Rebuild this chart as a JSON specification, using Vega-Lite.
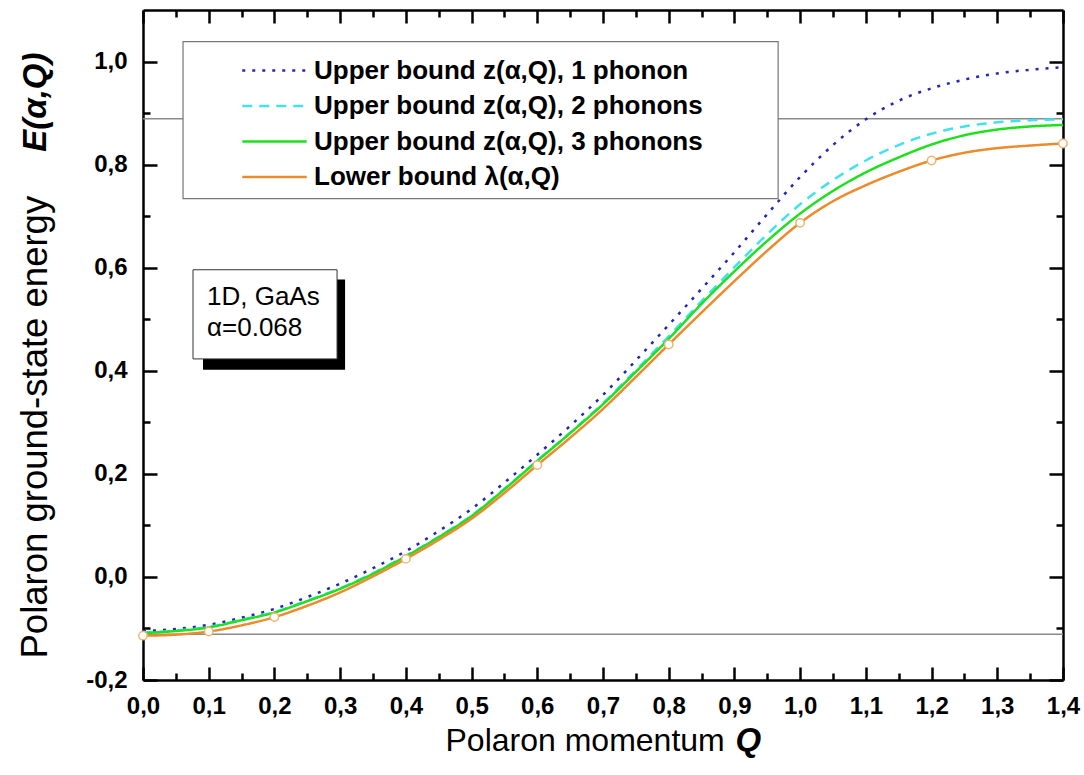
{
  "$schema": "https://vega.github.io/schema/vega-lite/v6.json",
  "width": 920,
  "height": 670,
  "autosize": {"type": "none"},
  "padding": {"left": 143, "top": 10, "right": 21, "bottom": 95},
  "background": "white",
  "config": {
    "view": {"stroke": null},
    "font": "Liberation Sans",
    "axis": {
      "domainColor": "black", "domainWidth": 2.5, "tickColor": "black", "tickWidth": 2.5,
      "grid": false, "labelFont": "Liberation Sans", "labelFontSize": 24, "labelFontWeight": "bold",
      "labelColor": "black", "titleFont": "Liberation Sans", "titleColor": "black",
      "titleFontWeight": "normal", "titleFontSize": 32, "labelOverlap": false, "labelFlush": false, "labelBound": false
    }
  },
  "datasets": {
    "curves": [
      {"Q": 0.00, "E": -0.105, "series": "Upper bound z(α,Q), 1 phonon"},
      {"Q": 0.05, "E": -0.101, "series": "Upper bound z(α,Q), 1 phonon"},
      {"Q": 0.10, "E": -0.093, "series": "Upper bound z(α,Q), 1 phonon"},
      {"Q": 0.15, "E": -0.079, "series": "Upper bound z(α,Q), 1 phonon"},
      {"Q": 0.20, "E": -0.062, "series": "Upper bound z(α,Q), 1 phonon"},
      {"Q": 0.25, "E": -0.039, "series": "Upper bound z(α,Q), 1 phonon"},
      {"Q": 0.30, "E": -0.013, "series": "Upper bound z(α,Q), 1 phonon"},
      {"Q": 0.35, "E": 0.017, "series": "Upper bound z(α,Q), 1 phonon"},
      {"Q": 0.40, "E": 0.050, "series": "Upper bound z(α,Q), 1 phonon"},
      {"Q": 0.45, "E": 0.089, "series": "Upper bound z(α,Q), 1 phonon"},
      {"Q": 0.50, "E": 0.132, "series": "Upper bound z(α,Q), 1 phonon"},
      {"Q": 0.55, "E": 0.183, "series": "Upper bound z(α,Q), 1 phonon"},
      {"Q": 0.60, "E": 0.237, "series": "Upper bound z(α,Q), 1 phonon"},
      {"Q": 0.65, "E": 0.293, "series": "Upper bound z(α,Q), 1 phonon"},
      {"Q": 0.70, "E": 0.353, "series": "Upper bound z(α,Q), 1 phonon"},
      {"Q": 0.75, "E": 0.420, "series": "Upper bound z(α,Q), 1 phonon"},
      {"Q": 0.80, "E": 0.489, "series": "Upper bound z(α,Q), 1 phonon"},
      {"Q": 0.85, "E": 0.559, "series": "Upper bound z(α,Q), 1 phonon"},
      {"Q": 0.90, "E": 0.630, "series": "Upper bound z(α,Q), 1 phonon"},
      {"Q": 0.95, "E": 0.704, "series": "Upper bound z(α,Q), 1 phonon"},
      {"Q": 1.00, "E": 0.776, "series": "Upper bound z(α,Q), 1 phonon"},
      {"Q": 1.05, "E": 0.838, "series": "Upper bound z(α,Q), 1 phonon"},
      {"Q": 1.10, "E": 0.888, "series": "Upper bound z(α,Q), 1 phonon"},
      {"Q": 1.15, "E": 0.924, "series": "Upper bound z(α,Q), 1 phonon"},
      {"Q": 1.20, "E": 0.948, "series": "Upper bound z(α,Q), 1 phonon"},
      {"Q": 1.25, "E": 0.965, "series": "Upper bound z(α,Q), 1 phonon"},
      {"Q": 1.30, "E": 0.977, "series": "Upper bound z(α,Q), 1 phonon"},
      {"Q": 1.35, "E": 0.984, "series": "Upper bound z(α,Q), 1 phonon"},
      {"Q": 1.40, "E": 0.989, "series": "Upper bound z(α,Q), 1 phonon"},
      {"Q": 0.00, "E": -0.108, "series": "Upper bound z(α,Q), 2 phonons"},
      {"Q": 0.05, "E": -0.104, "series": "Upper bound z(α,Q), 2 phonons"},
      {"Q": 0.10, "E": -0.097, "series": "Upper bound z(α,Q), 2 phonons"},
      {"Q": 0.15, "E": -0.083, "series": "Upper bound z(α,Q), 2 phonons"},
      {"Q": 0.20, "E": -0.068, "series": "Upper bound z(α,Q), 2 phonons"},
      {"Q": 0.25, "E": -0.046, "series": "Upper bound z(α,Q), 2 phonons"},
      {"Q": 0.30, "E": -0.022, "series": "Upper bound z(α,Q), 2 phonons"},
      {"Q": 0.35, "E": 0.007, "series": "Upper bound z(α,Q), 2 phonons"},
      {"Q": 0.40, "E": 0.041, "series": "Upper bound z(α,Q), 2 phonons"},
      {"Q": 0.45, "E": 0.078, "series": "Upper bound z(α,Q), 2 phonons"},
      {"Q": 0.50, "E": 0.119, "series": "Upper bound z(α,Q), 2 phonons"},
      {"Q": 0.55, "E": 0.171, "series": "Upper bound z(α,Q), 2 phonons"},
      {"Q": 0.60, "E": 0.226, "series": "Upper bound z(α,Q), 2 phonons"},
      {"Q": 0.65, "E": 0.280, "series": "Upper bound z(α,Q), 2 phonons"},
      {"Q": 0.70, "E": 0.337, "series": "Upper bound z(α,Q), 2 phonons"},
      {"Q": 0.75, "E": 0.401, "series": "Upper bound z(α,Q), 2 phonons"},
      {"Q": 0.80, "E": 0.467, "series": "Upper bound z(α,Q), 2 phonons"},
      {"Q": 0.85, "E": 0.535, "series": "Upper bound z(α,Q), 2 phonons"},
      {"Q": 0.90, "E": 0.601, "series": "Upper bound z(α,Q), 2 phonons"},
      {"Q": 0.95, "E": 0.665, "series": "Upper bound z(α,Q), 2 phonons"},
      {"Q": 1.00, "E": 0.723, "series": "Upper bound z(α,Q), 2 phonons"},
      {"Q": 1.05, "E": 0.770, "series": "Upper bound z(α,Q), 2 phonons"},
      {"Q": 1.10, "E": 0.808, "series": "Upper bound z(α,Q), 2 phonons"},
      {"Q": 1.15, "E": 0.838, "series": "Upper bound z(α,Q), 2 phonons"},
      {"Q": 1.20, "E": 0.860, "series": "Upper bound z(α,Q), 2 phonons"},
      {"Q": 1.25, "E": 0.874, "series": "Upper bound z(α,Q), 2 phonons"},
      {"Q": 1.30, "E": 0.882, "series": "Upper bound z(α,Q), 2 phonons"},
      {"Q": 1.35, "E": 0.886, "series": "Upper bound z(α,Q), 2 phonons"},
      {"Q": 1.40, "E": 0.888, "series": "Upper bound z(α,Q), 2 phonons"},
      {"Q": 0.00, "E": -0.109, "series": "Upper bound z(α,Q), 3 phonons"},
      {"Q": 0.05, "E": -0.105, "series": "Upper bound z(α,Q), 3 phonons"},
      {"Q": 0.10, "E": -0.098, "series": "Upper bound z(α,Q), 3 phonons"},
      {"Q": 0.15, "E": -0.084, "series": "Upper bound z(α,Q), 3 phonons"},
      {"Q": 0.20, "E": -0.069, "series": "Upper bound z(α,Q), 3 phonons"},
      {"Q": 0.25, "E": -0.047, "series": "Upper bound z(α,Q), 3 phonons"},
      {"Q": 0.30, "E": -0.023, "series": "Upper bound z(α,Q), 3 phonons"},
      {"Q": 0.35, "E": 0.006, "series": "Upper bound z(α,Q), 3 phonons"},
      {"Q": 0.40, "E": 0.040, "series": "Upper bound z(α,Q), 3 phonons"},
      {"Q": 0.45, "E": 0.077, "series": "Upper bound z(α,Q), 3 phonons"},
      {"Q": 0.50, "E": 0.118, "series": "Upper bound z(α,Q), 3 phonons"},
      {"Q": 0.55, "E": 0.170, "series": "Upper bound z(α,Q), 3 phonons"},
      {"Q": 0.60, "E": 0.225, "series": "Upper bound z(α,Q), 3 phonons"},
      {"Q": 0.65, "E": 0.279, "series": "Upper bound z(α,Q), 3 phonons"},
      {"Q": 0.70, "E": 0.335, "series": "Upper bound z(α,Q), 3 phonons"},
      {"Q": 0.75, "E": 0.398, "series": "Upper bound z(α,Q), 3 phonons"},
      {"Q": 0.80, "E": 0.462, "series": "Upper bound z(α,Q), 3 phonons"},
      {"Q": 0.85, "E": 0.530, "series": "Upper bound z(α,Q), 3 phonons"},
      {"Q": 0.90, "E": 0.593, "series": "Upper bound z(α,Q), 3 phonons"},
      {"Q": 0.95, "E": 0.652, "series": "Upper bound z(α,Q), 3 phonons"},
      {"Q": 1.00, "E": 0.705, "series": "Upper bound z(α,Q), 3 phonons"},
      {"Q": 1.05, "E": 0.749, "series": "Upper bound z(α,Q), 3 phonons"},
      {"Q": 1.10, "E": 0.785, "series": "Upper bound z(α,Q), 3 phonons"},
      {"Q": 1.15, "E": 0.814, "series": "Upper bound z(α,Q), 3 phonons"},
      {"Q": 1.20, "E": 0.839, "series": "Upper bound z(α,Q), 3 phonons"},
      {"Q": 1.25, "E": 0.857, "series": "Upper bound z(α,Q), 3 phonons"},
      {"Q": 1.30, "E": 0.868, "series": "Upper bound z(α,Q), 3 phonons"},
      {"Q": 1.35, "E": 0.874, "series": "Upper bound z(α,Q), 3 phonons"},
      {"Q": 1.40, "E": 0.877, "series": "Upper bound z(α,Q), 3 phonons"},
      {"Q": 0.00, "E": -0.114, "series": "Lower bound λ(α,Q)"},
      {"Q": 0.05, "E": -0.112, "series": "Lower bound λ(α,Q)"},
      {"Q": 0.10, "E": -0.106, "series": "Lower bound λ(α,Q)"},
      {"Q": 0.15, "E": -0.094, "series": "Lower bound λ(α,Q)"},
      {"Q": 0.20, "E": -0.078, "series": "Lower bound λ(α,Q)"},
      {"Q": 0.25, "E": -0.056, "series": "Lower bound λ(α,Q)"},
      {"Q": 0.30, "E": -0.030, "series": "Lower bound λ(α,Q)"},
      {"Q": 0.35, "E": 0.001, "series": "Lower bound λ(α,Q)"},
      {"Q": 0.40, "E": 0.035, "series": "Lower bound λ(α,Q)"},
      {"Q": 0.45, "E": 0.072, "series": "Lower bound λ(α,Q)"},
      {"Q": 0.50, "E": 0.113, "series": "Lower bound λ(α,Q)"},
      {"Q": 0.55, "E": 0.163, "series": "Lower bound λ(α,Q)"},
      {"Q": 0.60, "E": 0.217, "series": "Lower bound λ(α,Q)"},
      {"Q": 0.65, "E": 0.270, "series": "Lower bound λ(α,Q)"},
      {"Q": 0.70, "E": 0.326, "series": "Lower bound λ(α,Q)"},
      {"Q": 0.75, "E": 0.388, "series": "Lower bound λ(α,Q)"},
      {"Q": 0.80, "E": 0.451, "series": "Lower bound λ(α,Q)"},
      {"Q": 0.85, "E": 0.513, "series": "Lower bound λ(α,Q)"},
      {"Q": 0.90, "E": 0.574, "series": "Lower bound λ(α,Q)"},
      {"Q": 0.95, "E": 0.633, "series": "Lower bound λ(α,Q)"},
      {"Q": 1.00, "E": 0.687, "series": "Lower bound λ(α,Q)"},
      {"Q": 1.05, "E": 0.729, "series": "Lower bound λ(α,Q)"},
      {"Q": 1.10, "E": 0.760, "series": "Lower bound λ(α,Q)"},
      {"Q": 1.15, "E": 0.786, "series": "Lower bound λ(α,Q)"},
      {"Q": 1.20, "E": 0.808, "series": "Lower bound λ(α,Q)"},
      {"Q": 1.25, "E": 0.823, "series": "Lower bound λ(α,Q)"},
      {"Q": 1.30, "E": 0.832, "series": "Lower bound λ(α,Q)"},
      {"Q": 1.35, "E": 0.837, "series": "Lower bound λ(α,Q)"},
      {"Q": 1.40, "E": 0.841, "series": "Lower bound λ(α,Q)"}
    ],
    "bounds": [{"E": -0.111}, {"E": 0.889}],
    "note": [{"label": "1D, GaAs\nα=0.068"}]
  },
  "layer": [
    {
      "data": {"name": "bounds"},
      "mark": {"type": "rule", "color": "#8a8a8a", "strokeWidth": 1.5},
      "encoding": {
        "y": {"field": "E", "type": "quantitative", "scale": {"domain": [-0.2, 1.1], "nice": false, "zero": false},
          "axis": {"orient": "left", "domain": false, "ticks": false, "labels": false, "title": "E(α,Q)",
            "titleFontWeight": "bold", "titleFontStyle": "italic", "titleFontSize": 33, "titleX": -108, "titleY": 42,
            "titleAlign": "right", "titleBaseline": "middle", "titleAngle": -90}}
      }
    },
    {
      "data": {"name": "note"},
      "mark": {"type": "rect", "fill": "white", "stroke": "#777777", "strokeWidth": 1.2},
      "encoding": {
        "x": {"datum": 0.0609, "type": "quantitative", "scale": {"domain": [0, 1.4], "nice": false, "zero": false}, "axis": null},
        "x2": {"datum": 0.9665},
        "y": {"datum": 1.0388, "type": "quantitative", "axis": null},
        "y2": {"datum": 0.734}
      }
    },
    {
      "data": {"name": "curves"},
      "mark": {"type": "line", "interpolate": "monotone", "strokeCap": "butt"},
      "encoding": {
        "x": {"field": "Q", "type": "quantitative", "scale": {"domain": [0, 1.4], "nice": false, "zero": false},
          "axis": {"orient": "bottom", "values": [0,0.05,0.1,0.15,0.2,0.25,0.3,0.35,0.4,0.45,0.5,0.55,0.6,0.65,0.7,0.75,0.8,0.85,0.9,0.95,1,1.05,1.1,1.15,1.2,1.25,1.3,1.35,1.4],
            "tickSize": {"condition": {"test": "abs(datum.value*10 - round(datum.value*10)) < 0.001", "value": -13}, "value": -7},
            "labelExpr": "abs(datum.value*10 - round(datum.value*10)) < 0.001 ? replace(format(datum.value, '.1f'), '.', ',') : ''",
            "labelPadding": 27, "title": "Polaron momentum", "titleX": 302, "titleY": 60,
            "titleAlign": "left", "titleBaseline": "middle", "titleAnchor": null}},
        "y": {"field": "E", "type": "quantitative", "scale": {"domain": [-0.2, 1.1], "nice": false, "zero": false},
          "axis": {"orient": "left", "values": [-0.2,-0.1,0,0.1,0.2,0.3,0.4,0.5,0.6,0.7,0.8,0.9,1.0],
            "tickSize": {"condition": {"test": "abs(datum.value*5 - round(datum.value*5)) < 0.001", "value": -14}, "value": -7},
            "labelExpr": "abs(datum.value*5 - round(datum.value*5)) < 0.001 ? (datum.value < -0.001 ? '-' : '') + replace(format(abs(datum.value), '.1f'), '.', ',') : ''",
            "labelPadding": 30, "title": "Polaron ground-state energy", "titleFontSize": 36.5, "titleX": -108, "titleY": 648,
            "titleAlign": "left", "titleBaseline": "middle", "titleAngle": -90}},
        "color": {"field": "series", "type": "nominal",
          "scale": {"domain": ["Upper bound z(α,Q), 1 phonon", "Upper bound z(α,Q), 2 phonons", "Upper bound z(α,Q), 3 phonons", "Lower bound λ(α,Q)"],
            "range": ["#2525b5", "#40e2ee", "#1fe01f", "#ec8a2c"]},
          "legend": {"orient": "none", "legendX": 40, "legendY": 30, "title": null,
            "padding": 16, "symbolType": "M-2.48,0H2.48", "symbolSize": 676,
            "symbolStrokeWidth": 2.5, "symbolOffset": 61, "labelOffset": 25, "labelFontSize": 26,
            "labelFontWeight": "bold", "labelFont": "Liberation Sans", "labelColor": "black", "rowPadding": 7.5, "labelLimit": 700}},
        "strokeDash": {"field": "series", "type": "nominal",
          "scale": {"domain": ["Upper bound z(α,Q), 1 phonon", "Upper bound z(α,Q), 2 phonons", "Upper bound z(α,Q), 3 phonons", "Lower bound λ(α,Q)"],
            "range": [[3, 7], [10, 7], [1, 0], [1, 0]]},
          "legend": {"orient": "none", "legendX": 40, "legendY": 30, "title": null,
            "padding": 16, "symbolType": "M-2.48,0H2.48", "symbolSize": 676,
            "symbolStrokeWidth": 2.5, "symbolOffset": 61, "labelOffset": 25, "labelFontSize": 26,
            "labelFontWeight": "bold", "labelFont": "Liberation Sans", "labelColor": "black", "rowPadding": 7.5, "labelLimit": 700}},
        "strokeWidth": {"field": "series", "type": "nominal",
          "scale": {"domain": ["Upper bound z(α,Q), 1 phonon", "Upper bound z(α,Q), 2 phonons", "Upper bound z(α,Q), 3 phonons", "Lower bound λ(α,Q)"],
            "range": [2.5, 2.5, 3, 1.8]}, "legend": null}
      }
    },
    {
      "data": {"name": "curves"},
      "transform": [{"filter": {"and": [{"field": "series", "equal": "Lower bound λ(α,Q)"}, {"field": "Q", "oneOf": [0, 0.1, 0.2, 0.4, 0.6, 0.8, 1, 1.2, 1.4]}]}}],
      "mark": {"type": "point", "filled": true, "fill": "white", "stroke": "#efb574", "strokeWidth": 1.5, "size": 70, "opacity": 1},
      "encoding": {
        "x": {"field": "Q", "type": "quantitative", "scale": {"domain": [0, 1.4], "nice": false, "zero": false},
          "axis": {"orient": "top", "values": [0,0.05,0.1,0.15,0.2,0.25,0.3,0.35,0.4,0.45,0.5,0.55,0.6,0.65,0.7,0.75,0.8,0.85,0.9,0.95,1,1.05,1.1,1.15,1.2,1.25,1.3,1.35,1.4],
            "tickSize": {"condition": {"test": "abs(datum.value*10 - round(datum.value*10)) < 0.001", "value": -13}, "value": -7},
            "labels": false, "title": null}},
        "y": {"field": "E", "type": "quantitative", "scale": {"domain": [-0.2, 1.1], "nice": false, "zero": false},
          "axis": {"orient": "right", "values": [-0.2,-0.1,0,0.1,0.2,0.3,0.4,0.5,0.6,0.7,0.8,0.9,1.0],
            "tickSize": {"condition": {"test": "abs(datum.value*5 - round(datum.value*5)) < 0.001", "value": -14}, "value": -7},
            "labels": false, "title": null}}
      }
    },
    {
      "data": {"name": "note"},
      "mark": {"type": "rect", "color": "black"},
      "encoding": {
        "x": {"datum": 0.0913, "type": "quantitative", "scale": {"domain": [0, 1.4], "nice": false, "zero": false},
          "axis": {"orient": "bottom", "domain": false, "ticks": false, "labels": false, "title": "Q",
            "titleFontWeight": "bold", "titleFontStyle": "italic", "titleFontSize": 33, "titleX": 592, "titleY": 60,
            "titleAlign": "left", "titleBaseline": "middle"}},
        "x2": {"datum": 0.3075},
        "y": {"datum": 0.577, "type": "quantitative", "axis": null},
        "y2": {"datum": 0.402}
      }
    },
    {
      "data": {"name": "note"},
      "mark": {"type": "rect", "fill": "white", "stroke": "#333333", "strokeWidth": 1},
      "encoding": {
        "x": {"datum": 0.0761, "type": "quantitative", "axis": null},
        "x2": {"datum": 0.2953},
        "y": {"datum": 0.596, "type": "quantitative", "axis": null},
        "y2": {"datum": 0.423}
      }
    },
    {
      "data": {"name": "note"},
      "mark": {"type": "text", "align": "left", "baseline": "alphabetic", "fontSize": 26, "font": "Liberation Sans", "lineBreak": "\n", "lineHeight": 31, "color": "black"},
      "encoding": {
        "x": {"datum": 0.0974, "type": "quantitative", "axis": null},
        "y": {"datum": 0.528, "type": "quantitative", "axis": null},
        "text": {"field": "label"}
      }
    }
  ],
  "resolve": {"axis": {"x": "independent", "y": "independent"}}
}
